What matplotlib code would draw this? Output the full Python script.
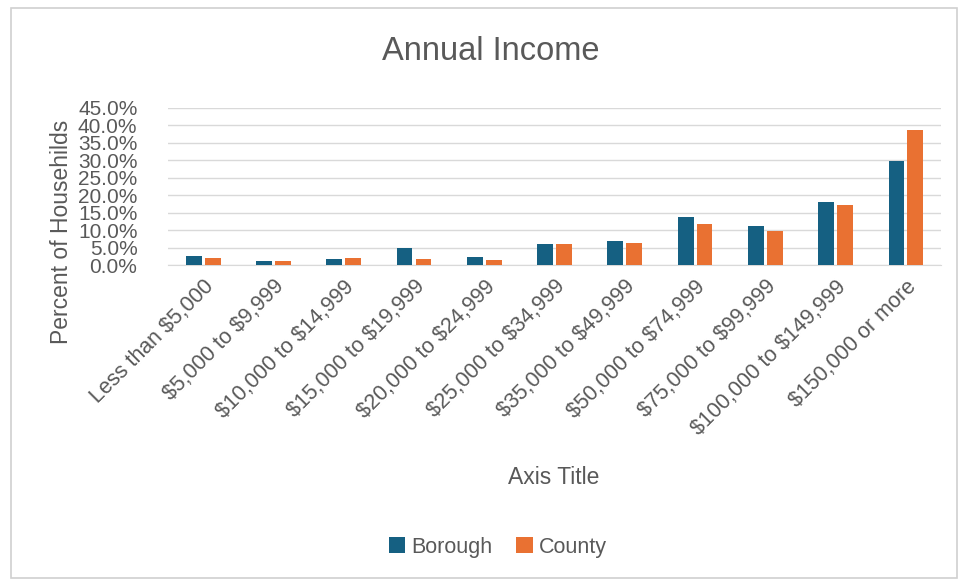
import numpy as np
import matplotlib
matplotlib.use("Agg")
import matplotlib.pyplot as plt
from matplotlib.patches import Rectangle
from matplotlib.ticker import PercentFormatter

plt.rcParams["text.parse_math"] = False

# income brackets and share of households
categories = [
    "Less than $5,000", "$5,000 to $9,999", "$10,000 to $14,999",
    "$15,000 to $19,999", "$20,000 to $24,999", "$25,000 to $34,999",
    "$35,000 to $49,999", "$50,000 to $74,999", "$75,000 to $99,999",
    "$100,000 to $149,999", "$150,000 or more",
]
borough = [0.027, 0.012, 0.017, 0.048, 0.022, 0.059, 0.068, 0.138, 0.112, 0.179, 0.297]
county = [0.021, 0.012, 0.020, 0.017, 0.015, 0.061, 0.062, 0.117, 0.098, 0.173, 0.385]
yticks = np.arange(0, 0.451, 0.05)

BLUE = "#156082"
ORANGE = "#E97132"
GRID = "#D9D9D9"
TEXT = "#595959"
SANS = ["Liberation Sans", "DejaVu Sans"]

fig = plt.figure(figsize=(9.58, 5.8), dpi=100)
fig.patches.append(Rectangle((11 / 958, 2 / 580), 946 / 958, 570 / 580,
                             transform=fig.transFigure, fill=False,
                             edgecolor="#D0D0D0", linewidth=1.2))

ax = fig.add_axes([0.1754, 0.5431, 0.8069, 0.2712])
x = np.arange(len(categories))
w = 0.225
ax.bar(x - 0.135, borough, w, color=BLUE, label="Borough", zorder=3)
ax.bar(x + 0.135, county, w, color=ORANGE, label="County", zorder=3)

ax.set_xlim(-0.5, len(categories) - 0.5)
ax.set_ylim(0, 0.45)
ax.set_yticks(yticks)
ax.yaxis.set_major_formatter(PercentFormatter(1.0, decimals=1))
ax.grid(axis="y", color=GRID, linewidth=1.0, zorder=0)
for s in ["top", "right", "left"]:
    ax.spines[s].set_visible(False)
ax.spines["bottom"].set_color(GRID)
ax.tick_params(axis="both", length=0, colors=TEXT)
ax.tick_params(axis="y", pad=22)
ax.tick_params(axis="x", pad=8)

ax.set_xticks(x)
ax.set_xticklabels(categories, rotation=45, ha="right", rotation_mode="anchor",
                   family=SANS, fontsize=15.5, color=TEXT)
for lbl in ax.get_yticklabels():
    lbl.set_family(SANS)
    lbl.set_fontsize(15)
    lbl.set_color(TEXT)

fig.text(61 / 958, 1 - 232 / 580, "Percent of Househilds", rotation=90,
         ha="center", va="center", family=SANS, fontsize=16.5, color=TEXT)
fig.text(491 / 958, 1 - 52 / 580, "Annual Income", ha="center", va="center",
         family=SANS, fontsize=23.5, color=TEXT)
fig.text(554 / 958, 1 - 477 / 580, "Axis Title", ha="center", va="center",
         family=SANS, fontsize=16.5, color=TEXT)

leg = fig.legend(loc="center", bbox_to_anchor=(498 / 958, 1 - 547 / 580), ncol=2,
                 frameon=False, prop={"family": SANS, "size": 15.5},
                 handlelength=0.75, handleheight=0.75, handletextpad=0.3,
                 columnspacing=1.1)
for t in leg.get_texts():
    t.set_color(TEXT)

fig.savefig("out.png", dpi=100)
